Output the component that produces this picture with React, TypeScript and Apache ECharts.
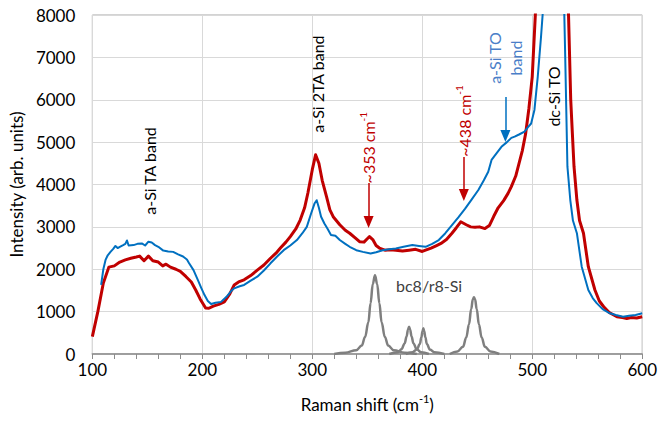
import React, { useEffect, useRef } from 'react';
import * as echarts from 'echarts';

const xTicks = [100, 200, 300, 400, 500, 600];
const yTicks = [0, 1000, 2000, 3000, 4000, 5000, 6000, 7000, 8000];

// red spectrum [Raman shift, intensity]
const redData: [number, number][] = [
  [100, 410], [105, 1000], [110, 1675], [115, 2050], [120, 2080], [125, 2170], [130, 2220],
  [135, 2260], [140, 2290], [143, 2310], [147, 2200], [151, 2310], [155, 2200], [160, 2170],
  [164, 2080], [167, 2120], [171, 2050], [176, 2000], [180, 1950], [185, 1830], [190, 1700],
  [194, 1510], [198, 1300], [203, 1085], [206, 1080], [210, 1130], [215, 1170], [220, 1230],
  [225, 1420], [229, 1630], [233, 1700], [238, 1750], [244, 1850], [250, 1980], [256, 2100],
  [262, 2260], [267, 2380], [271, 2500], [276, 2640], [280, 2770], [285, 2950], [289, 3160],
  [293, 3450], [296, 3800], [300, 4350], [303, 4700], [306, 4500], [309, 4100], [313, 3710],
  [316, 3400], [319, 3240], [325, 3050], [330, 2920], [334, 2850], [339, 2740], [343, 2650],
  [347, 2640], [350, 2720], [352, 2770], [355, 2700], [358, 2560], [361, 2500], [366, 2450],
  [371, 2460], [376, 2450], [382, 2430], [388, 2450], [394, 2470], [400, 2420], [403, 2450],
  [408, 2500], [413, 2560], [417, 2610], [422, 2700], [427, 2850], [431, 2980], [435, 3120],
  [440, 3050], [444, 3000], [448, 2990], [452, 3000], [457, 2960], [461, 3030], [465, 3250],
  [469, 3450], [474, 3620], [478, 3790], [481, 3950], [485, 4200], [488, 4500], [491, 4800],
  [494, 5200], [497, 5800], [500, 6540], [503, 8100], [507, 11000], [512, 15000], [518, 17000],
  [524, 15000], [529, 11000], [533, 8000], [535, 6000], [536.5, 5200], [538, 4420],
  [540.6, 3634], [543, 3150], [546.6, 2850], [551, 2060], [557, 1510], [561, 1250],
  [565, 1115], [570, 980], [577, 880], [582, 860], [586, 840], [590, 860], [595, 850], [600, 880],
];

// blue spectrum [Raman shift, intensity]
const blueData: [number, number][] = [
  [108, 1630], [110, 2000], [112, 2220], [114, 2330], [116.5, 2410], [119, 2480], [121, 2550],
  [123, 2500], [125, 2530], [128, 2570], [130, 2600], [131.5, 2680], [133, 2560], [137.5, 2570],
  [141, 2600], [145, 2610], [148, 2560], [151, 2650], [154, 2630], [157, 2570], [160, 2530],
  [164.5, 2440], [169, 2420], [173.5, 2410], [178, 2350], [182.5, 2300], [186, 2230], [188, 2140],
  [192, 1980], [196, 1745], [199, 1560], [202, 1390], [205, 1250], [208, 1180], [212, 1210],
  [217, 1230], [222, 1350], [226, 1480], [229, 1550], [234, 1600], [238, 1630], [244, 1730],
  [250, 1825], [256, 1970], [262, 2140], [268, 2300], [274, 2450], [280, 2560], [286, 2690],
  [291, 2850], [295, 3000], [299, 3320], [302, 3550], [304, 3630], [306, 3450], [308, 3240],
  [311, 3080], [314, 2950], [317, 2810], [321, 2790], [325, 2690], [330, 2600], [334, 2530],
  [340, 2450], [346, 2410], [353, 2370], [358, 2400], [364, 2450], [370, 2470], [376, 2490],
  [383, 2530], [391, 2570], [397, 2550], [403, 2530], [409, 2600], [415, 2690], [421, 2850],
  [427, 3040], [433, 3230], [439, 3430], [445, 3650], [451, 3870], [456, 4100], [460, 4300],
  [463, 4580], [468, 4750], [472, 4890], [477, 5000], [481, 5100], [484, 5130], [488, 5180],
  [493, 5250], [496, 5350], [499, 5440], [502, 5760], [505, 6540], [508, 7490], [510, 8200],
  [514, 11000], [520, 13000], [526, 11000], [529, 8200], [530, 7000], [532, 4420],
  [534.6, 3634], [537, 3150], [540.6, 2850], [545, 2060], [551, 1510], [555, 1320],
  [558.6, 1200], [564, 1060], [570.6, 960], [576, 920], [582.6, 880], [588, 900], [594, 920],
  [600, 960],
];

// bc8/r8-Si reference peaks
const bc8Peak1: [number, number][] = [
  [320, 0], [330, 30], [340, 90], [345, 200], [348, 400], [351, 750], [353, 1200], [355, 1650],
  [357, 1860], [359, 1650], [361, 1200], [363, 750], [366, 400], [369, 200], [374, 90],
  [384, 30], [395, 0],
];
const bc8Peak2: [number, number][] = [
  [370, 0], [378, 40], [381, 110], [384, 250], [385.8, 420], [387, 570], [388, 645], [389, 570],
  [390.2, 420], [392, 250], [395, 110], [399, 40], [406, 0],
];
const bc8Peak3: [number, number][] = [
  [385, 0], [391, 40], [395, 105], [397.8, 235], [399.2, 395], [400.2, 535], [401, 605],
  [401.8, 535], [402.8, 395], [404.2, 235], [407, 105], [411, 40], [420, 0],
];
const bc8Peak4: [number, number][] = [
  [425, 0], [432, 60], [437, 170], [440, 390], [442.5, 700], [444.5, 1060], [446, 1290],
  [447, 1340], [448, 1290], [449.5, 1060], [451.5, 700], [454, 390], [457, 170], [462, 60],
  [470, 0],
];

const RED = '#c00000';
const BLUE = '#0070c0';
const BLUE_TEXT = '#4a7ec8';
const GRAY = '#7f7f7f';
const FONT = 'Lato, "Open Sans", "Noto Sans", sans-serif';

const sup = (fs: number, color: string) => ({
  a: { fontSize: fs, fontFamily: FONT, color, lineHeight: fs + 5 },
  s: { fontSize: Math.round(fs * 0.65), fontFamily: FONT, color, lineHeight: 10, verticalAlign: 'top' },
});

const annotations = [
  { text: 'a-Si TA band', at: [152, 4320], color: '#000000', rot: true },
  { text: 'a-Si 2TA band', at: [305, 6370], color: '#000000', rot: true },
  { text: '{a|~353 cm}{s|-1}', at: [351, 4870], color: RED, rot: true },
  { text: '{a|~438 cm}{s|-1}', at: [438.8, 5500], color: RED, rot: true },
  { text: 'a-Si TO\nband', at: [475.4, 6985], color: BLUE_TEXT, rot: true },
  { text: 'dc-Si TO', at: [519.7, 6077], color: '#000000', rot: true },
  { text: 'bc8/r8-Si', at: [406.2, 1628], color: '#404040', rot: false },
];

const arrowLine = (x: number, y1: number, y2: number, color: string) => ({
  silent: true,
  symbol: ['none', 'triangle'],
  symbolSize: [10, 12],
  label: { show: false },
  lineStyle: { color, width: 1.5, type: 'solid' },
  emphasis: { disabled: true },
  data: [[{ coord: [x, y1] }, { coord: [x, y2] }]],
});

const grayPeak = (data: [number, number][]) => ({
  type: 'line',
  data,
  showSymbol: false,
  symbol: 'none',
  smooth: 0.4,
  smoothMonotone: 'x',
  lineStyle: { color: GRAY, width: 2.5 },
  z: 2,
  silent: true,
});

export default function App() {
  const ref = useRef<HTMLDivElement>(null);
  useEffect(() => {
    const chart = echarts.init(ref.current!, null, { renderer: 'svg' });
    chart.setOption({
      animation: false,
      backgroundColor: '#ffffff',
      grid: { left: 90, right: 14, top: 15, bottom: 67, show: true, borderColor: '#a6a6a6', borderWidth: 1 },
      xAxis: {
        type: 'value',
        min: xTicks[0],
        max: xTicks[xTicks.length - 1],
        interval: 100,
        name: '{a|Raman shift (cm}{s|-1}{a|)}',
        nameLocation: 'middle',
        nameGap: 39,
        nameTextStyle: { rich: sup(17, '#000000') },
        axisLine: { show: true, lineStyle: { color: '#8c8c8c', width: 1.5 } },
        axisTick: { show: true, length: 5, inside: false, lineStyle: { color: '#8c8c8c' } },
        minorTick: { show: true, splitNumber: 5, length: 5, lineStyle: { color: '#8c8c8c' } },
        axisLabel: { fontSize: 17, fontFamily: FONT, color: '#000000', margin: 7, formatter: (v: number) => String(v) },
        splitLine: { show: true, lineStyle: { color: '#d9d9d9', width: 1 } },
      },
      yAxis: {
        type: 'value',
        min: yTicks[0],
        max: yTicks[yTicks.length - 1],
        interval: 1000,
        name: 'Intensity (arb. units)',
        nameLocation: 'middle',
        nameGap: 64,
        nameTextStyle: { fontSize: 17, fontFamily: FONT, color: '#000000' },
        axisLine: { show: false },
        axisTick: { show: false },
        axisLabel: { fontSize: 17, fontFamily: FONT, color: '#000000', margin: 17, formatter: (v: number) => String(v) },
        splitLine: { show: true, lineStyle: { color: '#d9d9d9', width: 1 } },
      },
      series: [
        grayPeak(bc8Peak1),
        grayPeak(bc8Peak2),
        grayPeak(bc8Peak3),
        grayPeak(bc8Peak4),
        {
          type: 'line',
          data: redData,
          symbol: 'none',
          lineStyle: { color: RED, width: 3, join: 'round' },
          z: 3,
          markLine: {
            ...arrowLine(351.2, 4035, 3115, RED),
            data: [
              [{ coord: [351.2, 4035] }, { coord: [351.2, 3115] }],
              [{ coord: [437.8, 4650] }, { coord: [437.8, 3750] }],
            ],
          },
        },
        {
          type: 'line',
          data: blueData,
          symbol: 'none',
          lineStyle: { color: BLUE, width: 2, join: 'round' },
          z: 4,
          markLine: arrowLine(475.6, 6065, 5145, BLUE),
        },
      ],
    });
    const graphic = annotations.map((a) => {
      const p = chart.convertToPixel({ gridIndex: 0 }, a.at) as number[];
      return {
        type: 'text',
        x: p[0],
        y: p[1],
        rotation: a.rot ? Math.PI / 2 : 0,
        silent: true,
        z: 10,
        style: {
          text: a.text,
          fill: a.color,
          fontSize: 16,
          fontFamily: FONT,
          lineHeight: 21,
          align: 'center',
          verticalAlign: 'middle',
          textAlign: 'center',
          textVerticalAlign: 'middle',
          rich: sup(16, a.color),
        },
      };
    });
    chart.setOption({ graphic });
    return () => chart.dispose();
  }, []);
  return <div ref={ref} style={{ position: 'fixed', left: 0, top: 0, width: 660, height: 421 }} />;
}
